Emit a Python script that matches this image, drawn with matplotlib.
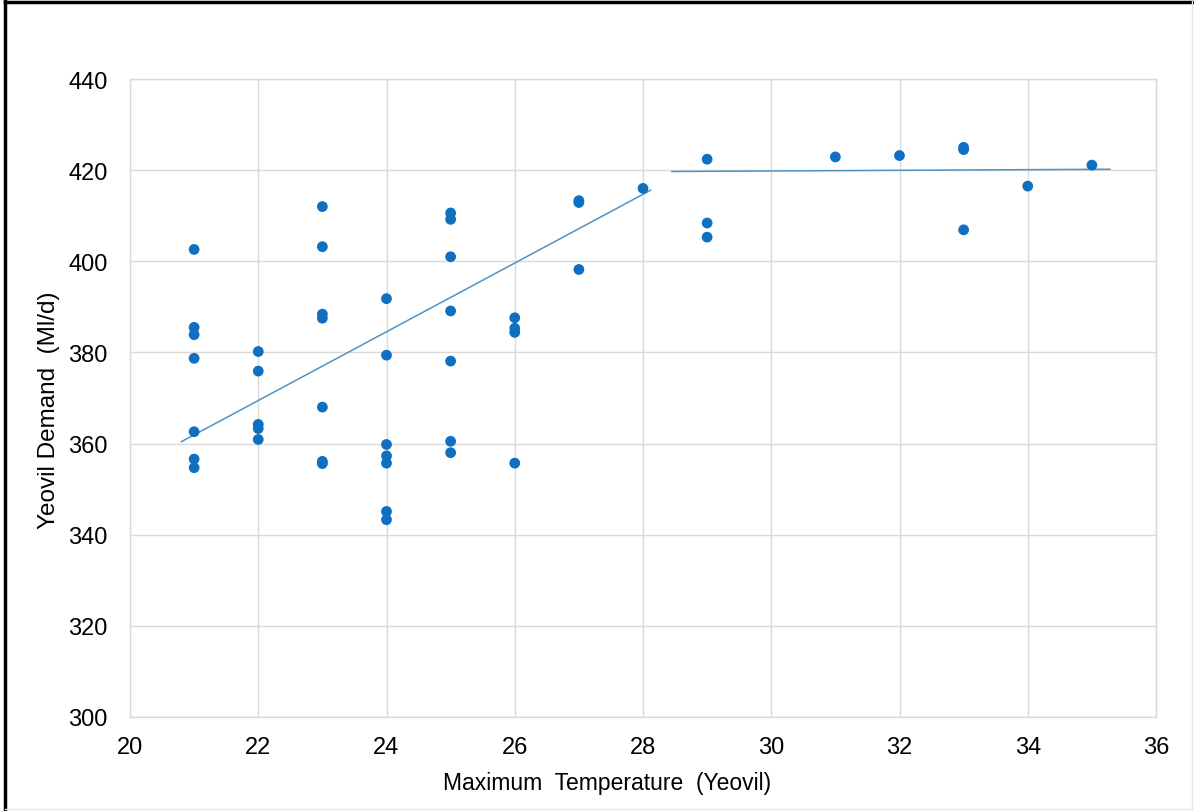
import matplotlib
matplotlib.use("Agg")
import matplotlib.pyplot as plt
from matplotlib.lines import Line2D

plt.rcParams['font.family'] = ['Liberation Sans', 'DejaVu Sans']

# Observations: maximum temperature (deg C) and demand (Ml/d)
temp = [21, 21, 21, 21, 21, 21, 21,
        22, 22, 22, 22, 22,
        23, 23, 23, 23, 23, 23, 23,
        24, 24, 24, 24, 24, 24, 24,
        25, 25, 25, 25, 25, 25, 25,
        26, 26, 26, 26,
        27, 27, 27,
        28,
        29, 29, 29,
        31, 32, 33, 33, 33, 34, 35]
demand = [402.6, 385.5, 383.9, 378.7, 362.6, 356.6, 354.7,
          380.2, 375.9, 364.2, 363.3, 360.9,
          412.0, 403.2, 388.4, 387.5, 368.0, 356.1, 355.6,
          391.8, 379.4, 359.8, 357.3, 355.7, 345.1, 343.3,
          410.6, 409.2, 401.0, 389.1, 378.1, 360.5, 358.0,
          387.6, 385.3, 384.4, 355.7,
          413.3, 412.9, 398.2,
          416.0,
          422.4, 408.4, 405.3,
          422.9, 423.2, 425.0, 424.5, 406.9, 416.5, 421.1]

# Piecewise trend lines (end points)
trend1_x = [20.8, 28.12]
trend1_y = [360.4, 415.6]
trend2_x = [28.45, 35.28]
trend2_y = [419.7, 420.2]

x_ticks = [20, 22, 24, 26, 28, 30, 32, 34, 36]
y_ticks = [300, 320, 340, 360, 380, 400, 420, 440]

fig = plt.figure(figsize=(11.94, 8.12), dpi=100)
ax = fig.add_axes([130/1194, 1-718/812, (1156-130)/1194, (718-80)/812])

grid_c = '#d9d9d9'
ax.set_xlim(20, 36)
ax.set_ylim(300, 440)
ax.set_xticks(x_ticks)
ax.set_yticks(y_ticks)
ax.grid(True, color=grid_c, linewidth=1.0)
ax.set_axisbelow(True)
for s in ax.spines.values():
    s.set_color(grid_c)
    s.set_linewidth(1.0)
ax.tick_params(length=0, labelsize=17, colors='#000000', pad=14)
ax.tick_params(axis='y', pad=16)

ax.plot(trend1_x, trend1_y, color='#4f93c4', linewidth=1.1, zorder=2)
ax.plot(trend2_x, trend2_y, color='#4f93c4', linewidth=1.1, zorder=2)
ax.scatter(temp, demand, s=60, color='#0f6fc0', edgecolors='none', zorder=3)

ax.set_xlabel('Maximum  Temperature  (Yeovil)', fontsize=16.5, labelpad=9)
ax.xaxis.label.set_x(0.465)
ax.set_ylabel('Yeovil Demand  (Ml/d)', fontsize=17.5, labelpad=6)
ax.yaxis.label.set_y(0.483)

# outer frame
fig.add_artist(Line2D([5/1194, 5/1194], [0, 1-2/812], transform=fig.transFigure, color='black', linewidth=2.5))
fig.add_artist(Line2D([5/1194, 1], [1-2.5/812, 1-2.5/812], transform=fig.transFigure, color='black', linewidth=2.5))
fig.add_artist(Line2D([1192/1194, 1192/1194], [0, 1-2/812], transform=fig.transFigure, color='#e6e6e6', linewidth=1))
fig.add_artist(Line2D([5/1194, 1], [2/812, 2/812], transform=fig.transFigure, color='#e6e6e6', linewidth=1))

fig.savefig('out.png', dpi=100, facecolor='white')
